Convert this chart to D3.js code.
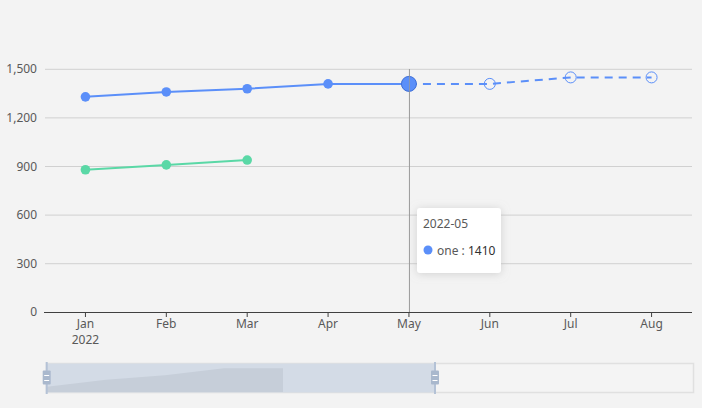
<!DOCTYPE html>
<html><head><meta charset="utf-8">
<script src="https://cdn.jsdelivr.net/npm/d3@7"></script>
<style>html,body{margin:0;padding:0;background:#f3f3f3;}svg{display:block;font-family:"Noto Sans",sans-serif;}</style>
</head><body>
<svg id="c" width="702" height="408"></svg>
<script>
const months = ["Jan","Feb","Mar","Apr","May","Jun","Jul","Aug"];
const dates = ["2022-01","2022-02","2022-03","2022-04","2022-05","2022-06","2022-07","2022-08"];
const oneActual = [1330,1360,1380,1410,1410];          // Jan–May (solid)
const oneForecast = [1410,1410,1450,1450];             // May–Aug (dashed)
const twoValues = [880,910,940];                       // Jan–Mar
const yTicks = [0,300,600,900,1200,1500];
const hoverIndex = 4;

const svg = d3.select("#c");
const x = d3.scaleBand().domain(months).range([45,692]);
const cx = m => x(m) + x.bandwidth()/2;
const y = d3.scaleLinear().domain([0,1500]).range([312.3,69.3]);
const blue = "#5B8FF9", green = "#5AD8A6";

// grid
svg.append("g").selectAll("line").data(yTicks.slice(1)).join("line")
  .attr("x1",45).attr("x2",692).attr("y1",d=>y(d)).attr("y2",d=>y(d))
  .attr("stroke","#d0d0d0").attr("stroke-width",1);
// y labels
svg.append("g").selectAll("text").data(yTicks).join("text")
  .attr("x",37).attr("y",d=>y(d)+4).attr("text-anchor","end")
  .attr("font-size",12).attr("fill","#595959").text(d3.format(","));
// x axis
svg.append("line").attr("x1",44).attr("x2",692).attr("y1",312.5).attr("y2",312.5)
  .attr("stroke","#404040").attr("stroke-width",1);
const xg = svg.append("g");
xg.selectAll("line").data(months).join("line")
  .attr("x1",cx).attr("x2",cx).attr("y1",312.5).attr("y2",317).attr("stroke","#404040");
xg.selectAll("text.m").data(months).join("text").attr("class","m")
  .attr("x",cx).attr("y",327.5).attr("text-anchor","middle").attr("font-size",12).attr("fill","#595959")
  .text(d=>d);
xg.append("text").attr("x",cx("Jan")).attr("y",343.5).attr("text-anchor","middle")
  .attr("font-size",12).attr("fill","#595959").text("2022");

// crosshair
svg.append("line").attr("x1",cx(months[hoverIndex])+0.5).attr("x2",cx(months[hoverIndex])+0.5)
  .attr("y1",69).attr("y2",312).attr("stroke","#9a9a9a").attr("stroke-width",1);

const line = d3.line().x(d=>cx(d.m)).y(d=>y(d.v));
const actual = oneActual.map((v,i)=>({m:months[i],v}));
const fc = oneForecast.map((v,i)=>({m:months[i+4],v}));
const two = twoValues.map((v,i)=>({m:months[i],v}));

svg.append("path").attr("d",line(two)).attr("fill","none").attr("stroke",green).attr("stroke-width",2);
svg.append("path").attr("d",line(actual)).attr("fill","none").attr("stroke",blue).attr("stroke-width",2);
svg.append("path").attr("d",line(fc)).attr("fill","none").attr("stroke",blue).attr("stroke-width",2)
  .attr("stroke-dasharray","8,6");

svg.append("g").selectAll("circle").data(two).join("circle")
  .attr("cx",d=>cx(d.m)).attr("cy",d=>y(d.v)).attr("r",4.8).attr("fill",green);
svg.append("g").selectAll("circle").data(actual.slice(0,4)).join("circle")
  .attr("cx",d=>cx(d.m)).attr("cy",d=>y(d.v)).attr("r",4.8).attr("fill",blue);
svg.append("g").selectAll("circle").data(fc.slice(1)).join("circle")
  .attr("cx",d=>cx(d.m)).attr("cy",d=>y(d.v)).attr("r",5.5).attr("fill","none")
  .attr("stroke",blue).attr("stroke-width",1);
// active point
svg.append("circle").attr("cx",cx(months[hoverIndex])).attr("cy",y(oneActual[hoverIndex]))
  .attr("r",7.5).attr("fill",blue).attr("stroke","#3f6fd6").attr("stroke-width",1);
svg.append("line").attr("x1",cx(months[hoverIndex])+0.5).attr("x2",cx(months[hoverIndex])+0.5)
  .attr("y1",y(oneActual[hoverIndex])-8).attr("y2",y(oneActual[hoverIndex])+8)
  .attr("stroke","#9a9a9a").attr("stroke-opacity",0.8);

// tooltip
const defs = svg.append("defs");
const f = defs.append("filter").attr("id","sh").attr("x","-30%").attr("y","-30%").attr("width","160%").attr("height","160%");
f.append("feDropShadow").attr("dx",0).attr("dy",1).attr("stdDeviation",4).attr("flood-color","#aeaeae").attr("flood-opacity",0.5);
const tt = svg.append("g").attr("transform","translate(417,208)");
tt.append("rect").attr("width",84).attr("height",65).attr("rx",3).attr("fill","#fff").attr("filter","url(#sh)");
tt.append("text").attr("x",6).attr("y",20).attr("font-size",12).attr("fill","#595959").text(dates[hoverIndex]);
tt.append("circle").attr("cx",11).attr("cy",42).attr("r",4.5).attr("fill",blue);
const t2 = tt.append("text").attr("x",20).attr("y",46.5).attr("font-size",12).attr("fill","#595959");
t2.append("tspan").text("one : ");
t2.append("tspan").attr("fill","#303030").text(oneActual[hoverIndex]);

// slider
const sx0 = 46.5, sx1 = 693.5, sy0 = 363.5, sy1 = 392.5;
svg.append("rect").attr("x",sx0).attr("y",sy0).attr("width",sx1-sx0).attr("height",sy1-sy0)
  .attr("fill","#f4f4f4").attr("stroke","#e0e0e0").attr("stroke-width",1.5);
const selEnd = 435;
svg.append("rect").attr("x",47).attr("y",sy0).attr("width",selEnd-47).attr("height",sy1-sy0)
  .attr("fill","#d3dbe6");
const shx = d3.scalePoint().domain(months.slice(0,5)).range([47,283]);
const shy = d3.scaleLinear().domain([1307,1410]).range([392,368.3]);
const area = d3.area().x(d=>shx(d.m)).y0(392).y1(d=>shy(d.v));
svg.append("path").attr("d",area(actual)).attr("fill","#c6ced9");
[46.7, selEnd].forEach(hx=>{
  const g = svg.append("g");
  g.append("line").attr("x1",hx).attr("x2",hx).attr("y1",362).attr("y2",394).attr("stroke","#b4c2d6").attr("stroke-width",2);
  g.append("rect").attr("x",hx-4).attr("y",370.5).attr("width",8).attr("height",14).attr("rx",1).attr("fill","#a9b8cd");
  g.append("line").attr("x1",hx-2.5).attr("x2",hx+2.5).attr("y1",375.5).attr("y2",375.5).attr("stroke","#fff");
  g.append("line").attr("x1",hx-2.5).attr("x2",hx+2.5).attr("y1",380.5).attr("y2",380.5).attr("stroke","#fff");
});
</script>
</body></html>
